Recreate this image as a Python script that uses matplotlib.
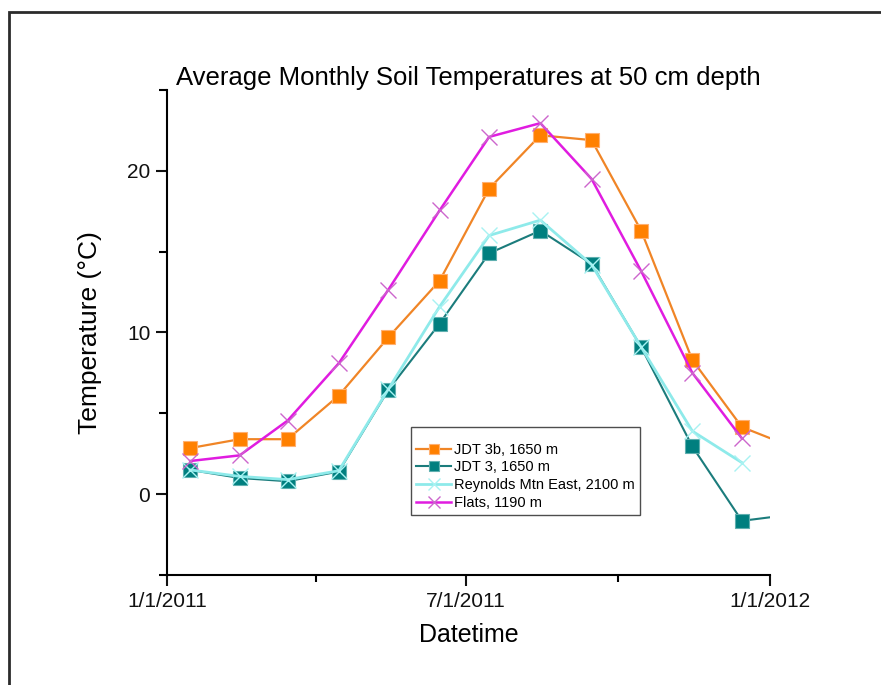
import numpy as np
import matplotlib
matplotlib.use("Agg")
import matplotlib.pyplot as plt
import matplotlib.dates as mdates
from matplotlib.patches import Rectangle
from datetime import datetime

plt.rcParams['font.family'] = ['Liberation Sans', 'DejaVu Sans']

# monthly averages, plotted at mid-month
months = ["2011-01-15", "2011-02-14", "2011-03-15", "2011-04-15", "2011-05-15",
          "2011-06-15", "2011-07-15", "2011-08-15", "2011-09-15", "2011-10-15",
          "2011-11-15", "2011-12-15", "2012-01-15"]

jdt3b    = [2.85, 3.4, 3.4, 6.1, 9.7, 13.2, 18.9, 22.2, 21.9, 16.3, 8.3, 4.15, 2.9]
jdt3     = [1.5, 1.0, 0.8, 1.4, 6.45, 10.55, 14.9, 16.3, 14.25, 9.1, 2.95, -1.65, -1.25]
reynolds = [1.5, 1.1, 0.9, 1.45, 6.5, 11.6, 16.0, 16.95, 14.2, 9.1, 3.9, 1.95]
flats    = [2.05, 2.4, 4.55, 8.1, 12.65, 17.55, 22.1, 22.95, 19.5, 13.8, 7.5, 3.45]

labels = ["JDT 3b, 1650 m", "JDT 3, 1650 m",
          "Reynolds Mtn East, 2100 m", "Flats, 1190 m"]

xtick_dates  = ["2011-01-01", "2011-07-01", "2012-01-01"]
xtick_labels = ["1/1/2011", "7/1/2011", "1/1/2012"]
xminor_dates = ["2011-04-01", "2011-10-01"]

to_dt = lambda lst: [datetime.strptime(s, "%Y-%m-%d") for s in lst]
dates = to_dt(months)

fig = plt.figure(figsize=(8.81, 6.85), dpi=100)
ax = fig.add_axes([167 / 881, 1 - 575 / 685, 603 / 881, 485 / 685])

# outer frame of the exported graph page
fig.patches.append(Rectangle((9 / 881, -0.02), 1.0, 1 - 12 / 685 + 0.02,
                             transform=fig.transFigure, fill=False,
                             edgecolor='#2b2b2b', linewidth=2.0, zorder=0))

ax.plot(dates[:len(jdt3b)], jdt3b, color='#F08526', lw=1.6, marker='s', ms=9.5,
        mfc='#FF8000', mec='#FFB070', mew=0.8, label=labels[0])
ax.plot(dates[:len(jdt3)], jdt3, color='#1B7C7C', lw=1.5, marker='s', ms=9.5,
        mfc='#007F7F', mec='#5FAFAF', mew=0.8, label=labels[1])
ax.plot(dates[:len(reynolds)], reynolds, color='#8EEAEA', lw=2.0, marker='x', ms=11,
        mec='#A8F2F2', mew=1.0, label=labels[2])
ax.plot(dates[:len(flats)], flats, color='#E01CE0', lw=1.8, marker='x', ms=11,
        mec='#CC66CC', mew=1.0, label=labels[3])

ax.set_xlim(datetime(2011, 1, 1), datetime(2012, 1, 1))
ax.set_ylim(-5, 25)

ax.set_xticks(to_dt(xtick_dates))
ax.set_xticklabels(xtick_labels)
ax.set_xticks(to_dt(xminor_dates), minor=True)
ax.set_yticks([0, 10, 20])
ax.set_yticks([-5, 5, 15, 25], minor=True)

for s in ['top', 'right']:
    ax.spines[s].set_visible(False)
for s in ['left', 'bottom']:
    ax.spines[s].set_linewidth(1.5)
ax.tick_params(which='major', direction='out', length=8, width=1.5,
               labelsize=15, pad=4, colors='#111111')
ax.tick_params(axis='x', which='minor', direction='out', length=5, width=1.5)
ax.tick_params(axis='y', which='minor', direction='out', length=6, width=1.5)

ax.set_title("Average Monthly Soil Temperatures at 50 cm depth",
             fontsize=18.5, pad=3)
ax.set_xlabel("Datetime", fontsize=18, labelpad=9)
ax.set_ylabel("Temperature (\u00b0C)", fontsize=19, labelpad=18)

leg = ax.legend(loc='upper left', bbox_to_anchor=(0.405, 0.305), fontsize=10.5,
                frameon=True, fancybox=False, edgecolor='#222222',
                handlelength=2.4, handletextpad=0.2, labelspacing=0.25,
                borderpad=0.35, borderaxespad=0, title=" ", title_fontsize=6,
                markerscale=0.8)
leg.get_frame().set_linewidth(1.0)

fig.savefig("out.png", dpi=100)
